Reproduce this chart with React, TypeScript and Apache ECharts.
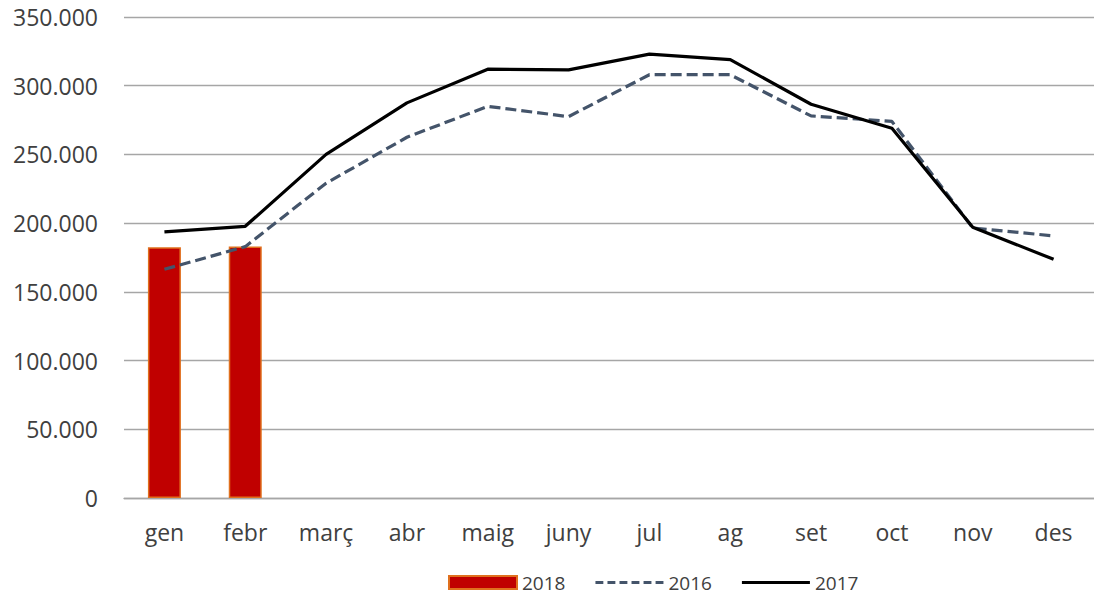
import React, { useEffect, useRef } from "react";
import * as echarts from "echarts";

const categories = ["gen", "febr", "març", "abr", "maig", "juny", "jul", "ag", "set", "oct", "nov", "des"];
const values2018 = [182500, 183000];
const values2016 = [166400, 182900, 229000, 262500, 285000, 277500, 308000, 308000, 278000, 274000, 196500, 190700];
const values2017 = [193600, 197700, 250000, 287500, 312000, 311500, 323000, 319000, 286500, 269000, 197000, 173700];

const FONT = "'Open Sans', sans-serif";
const TEXT = "#404040";

const DASH_ICON =
  "path://M0,0h8v3h-8z M12.2,0h8v3h-8z M24.4,0h8v3h-8z M36.6,0h8v3h-8z M48.8,0h8v3h-8z M61,0h8v3h-8z";
const SOLID_ICON = "path://M0,0h69v3h-69z";

function fmt(v: number): string {
  return String(Math.round(v)).replace(/\B(?=(\d{3})+(?!\d))/g, ".");
}

export default function App() {
  const ref = useRef<HTMLDivElement>(null);
  useEffect(() => {
    if (!ref.current) return;
    const chart = echarts.init(ref.current, null, { renderer: "svg" });
    chart.setOption({
      animation: false,
      backgroundColor: "#ffffff",
      grid: { left: 124, width: 976, top: 17, height: 481, containLabel: false },
      legend: {
        left: 443,
        top: 568,
        itemWidth: 68,
        itemHeight: 13,
        itemGap: 30,
        symbolKeepAspect: true,
        textStyle: { fontFamily: FONT, fontSize: 19, color: TEXT },
        data: [
          { name: "2018", icon: "rect" },
          { name: "2016", icon: DASH_ICON },
          { name: "2017", icon: SOLID_ICON },
        ],
      },
      xAxis: {
        type: "category",
        data: categories,
        axisLine: { show: true, lineStyle: { color: "#A6A6A6", width: 1.3 } },
        axisTick: { show: false },
        axisLabel: { fontFamily: FONT, fontSize: 23, color: TEXT, margin: 22 },
      },
      yAxis: {
        type: "value",
        min: 0,
        max: 350000,
        interval: 50000,
        axisLine: { show: false },
        axisTick: { show: false },
        splitLine: { lineStyle: { color: "#A6A6A6", width: 1.3 } },
        axisLabel: { fontFamily: FONT, fontSize: 23, color: TEXT, margin: 26, formatter: (v: number) => fmt(v) },
      },
      series: [
        {
          name: "2018",
          type: "bar",
          data: values2018,
          barWidth: 33,
          z: 1,
          itemStyle: { color: "#C00000", borderColor: "#E0701E", borderWidth: 1.5 },
        },
        {
          name: "2016",
          type: "line",
          data: values2016,
          symbol: "none",
          z: 3,
          itemStyle: { color: "#44546A" },
          lineStyle: { color: "#44546A", width: 3.2, type: [11, 5] },
        },
        {
          name: "2017",
          type: "line",
          data: values2017,
          symbol: "none",
          z: 4,
          itemStyle: { color: "#000000" },
          lineStyle: { color: "#000000", width: 3.2 },
        },
      ],
    });
    return () => chart.dispose();
  }, []);
  return (
    <div
      ref={ref}
      style={{ position: "fixed", left: 0, top: 0, width: 1094, height: 595, background: "#fff" }}
    />
  );
}
